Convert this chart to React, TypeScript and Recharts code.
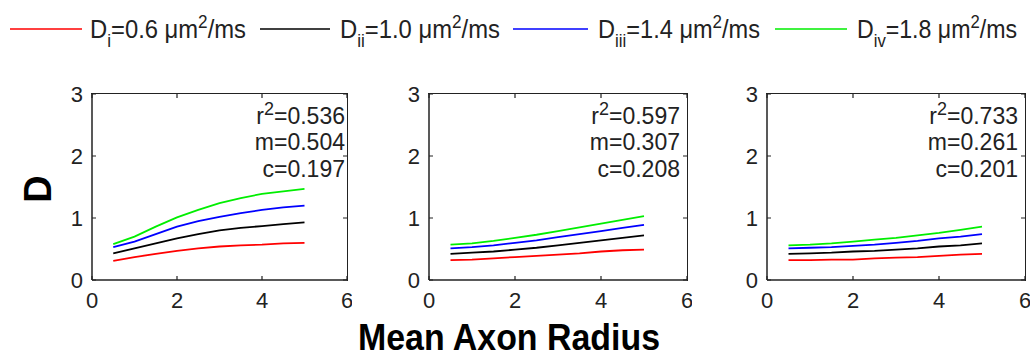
import React from 'react';
import { LineChart, Line, XAxis, YAxis } from 'recharts';

const FONT = '"Liberation Sans", Arial, sans-serif';
const INK = '#222';

// Mean axon radius sample points (shared by all panels)
const radius = [0.5, 1, 1.5, 2, 2.5, 3, 3.5, 4, 4.5, 5];

// Panel 1
const p1Red = [0.31, 0.37, 0.42, 0.47, 0.51, 0.54, 0.56, 0.57, 0.59, 0.6];
const p1Black = [0.43, 0.51, 0.59, 0.67, 0.74, 0.8, 0.84, 0.87, 0.9, 0.93];
const p1Blue = [0.53, 0.62, 0.74, 0.86, 0.95, 1.02, 1.08, 1.13, 1.17, 1.2];
const p1Green = [0.58, 0.7, 0.86, 1.01, 1.13, 1.24, 1.32, 1.39, 1.43, 1.47];

// Panel 2
const p2Red = [0.32, 0.33, 0.35, 0.37, 0.39, 0.41, 0.43, 0.46, 0.48, 0.49];
const p2Black = [0.42, 0.44, 0.46, 0.49, 0.52, 0.56, 0.6, 0.64, 0.68, 0.72];
const p2Blue = [0.51, 0.53, 0.56, 0.6, 0.64, 0.69, 0.74, 0.79, 0.84, 0.89];
const p2Green = [0.57, 0.59, 0.63, 0.68, 0.73, 0.79, 0.85, 0.91, 0.97, 1.03];

// Panel 3
const p3Red = [0.32, 0.32, 0.33, 0.33, 0.35, 0.36, 0.37, 0.39, 0.41, 0.42];
const p3Black = [0.42, 0.43, 0.44, 0.46, 0.47, 0.49, 0.51, 0.54, 0.56, 0.59];
const p3Blue = [0.51, 0.52, 0.53, 0.55, 0.57, 0.6, 0.63, 0.67, 0.7, 0.74];
const p3Green = [0.56, 0.57, 0.59, 0.62, 0.65, 0.68, 0.72, 0.76, 0.81, 0.86];

// fit statistics shown in each panel
const r2Values = ['0.536', '0.597', '0.733'];
const slopes = ['0.504', '0.307', '0.261'];
const intercepts = ['0.197', '0.208', '0.201'];

const xTicks = [0, 2, 4, 6];
const yTicks = [0, 1, 2, 3];
const X_MAX = 6;
const Y_MAX = 3;

// legend entries: subscript + diffusivity value
const legendSubs = ['i', 'ii', 'iii', 'iv'];
const legendValues = ['0.6', '1.0', '1.4', '1.8'];
const seriesKeys = ['red', 'black', 'blue', 'green'];
const seriesColors = ['#ff0000', '#000000', '#0000ff', '#00ee00'];

const buildRows = (red: number[], black: number[], blue: number[], green: number[]) =>
  radius.map((x, i) => ({ x, red: red[i], black: black[i], blue: blue[i], green: green[i] }));

const panels = [
  { rows: buildRows(p1Red, p1Black, p1Blue, p1Green), plotLeft: 92, plotW: 255, statX: 345 },
  { rows: buildRows(p2Red, p2Black, p2Blue, p2Green), plotLeft: 429, plotW: 258, statX: 680 },
  { rows: buildRows(p3Red, p3Black, p3Blue, p3Green), plotLeft: 767, plotW: 258, statX: 1018 },
];

const PLOT_TOP = 94;
const PLOT_H = 186;
const Y_AXIS_W = 50;
const X_AXIS_H = 40;
const MARGIN_TOP = 24;
const MARGIN_RIGHT = 5;
const TICK_LEN = 4;
const BOX_W = 1.5;

// MATLAB style: ticks point inward on all four sides, labels outside
const BottomTick = (props: any) => {
  const { x, y, payload } = props;
  return (
    <g>
      <path d={`M${x},${y}v${-TICK_LEN}M${x},${y - PLOT_H}v${TICK_LEN}`} stroke={INK} strokeWidth={1.2} fill="none" />
      <text x={x} y={y + 28} textAnchor="middle" fontSize={22} fill={INK} fontFamily={FONT}>
        {payload.value}
      </text>
    </g>
  );
};

const makeLeftTick = (plotW: number) => (props: any) => {
  const { x, y, payload } = props;
  return (
    <g>
      <path d={`M${x},${y}h${TICK_LEN}M${x + plotW},${y}h${-TICK_LEN}`} stroke={INK} strokeWidth={1.2} fill="none" />
      <text x={x - 9} y={y + 8} textAnchor="end" fontSize={22} fill={INK} fontFamily={FONT}>
        {payload.value}
      </text>
    </g>
  );
};

const Panel = ({ rows, plotLeft, plotW }: any) => (
  <>
    <div style={{ position: 'absolute', left: plotLeft - Y_AXIS_W, top: PLOT_TOP - MARGIN_TOP }}>
      <LineChart
        width={Y_AXIS_W + plotW + MARGIN_RIGHT}
        height={MARGIN_TOP + PLOT_H + X_AXIS_H}
        data={rows}
        margin={{ top: MARGIN_TOP, right: MARGIN_RIGHT, left: 0, bottom: 0 }}
      >
        <XAxis
          dataKey="x"
          type="number"
          domain={[0, X_MAX]}
          ticks={xTicks}
          height={X_AXIS_H}
          tickSize={0}
          tickMargin={0}
          tickLine={false}
          tick={BottomTick}
          axisLine={{ stroke: INK, strokeWidth: BOX_W }}
        />
        <YAxis
          type="number"
          domain={[0, Y_MAX]}
          ticks={yTicks}
          width={Y_AXIS_W}
          tickSize={0}
          tickMargin={0}
          tickLine={false}
          tick={makeLeftTick(plotW)}
          axisLine={{ stroke: INK, strokeWidth: BOX_W }}
        />
        {seriesKeys.map((k, i) => (
          <Line
            key={k}
            type="linear"
            dataKey={k}
            stroke={seriesColors[i]}
            strokeWidth={1.8}
            dot={false}
            isAnimationActive={false}
          />
        ))}
      </LineChart>
    </div>
    {/* axes box frame (top and right edges) */}
    <div
      style={{
        position: 'absolute',
        left: plotLeft - BOX_W / 2,
        top: PLOT_TOP - BOX_W / 2,
        width: plotW + BOX_W,
        height: PLOT_H + BOX_W,
        boxSizing: 'border-box',
        borderTop: `${BOX_W}px solid ${INK}`,
        borderRight: `${BOX_W}px solid ${INK}`,
        pointerEvents: 'none',
      }}
    />
  </>
);

// legend layout (line start/end, text start, text width)
const legendLayout = [
  { x1: 10, x2: 82, tx: 90, tw: 156 },
  { x1: 260, x2: 330, tx: 340, tw: 160 },
  { x1: 513, x2: 588, tx: 598, tw: 162 },
  { x1: 775, x2: 847, tx: 857, tw: 160 },
];

export default function App() {
  return (
    <div
      style={{
        position: 'absolute',
        left: 0,
        top: 0,
        width: 1034,
        height: 360,
        overflow: 'hidden',
        background: '#fff',
      }}
    >
      {panels.map((p, i) => (
        <Panel key={i} {...p} />
      ))}
      <svg
        width={1034}
        height={360}
        style={{ position: 'absolute', left: 0, top: 0, pointerEvents: 'none' }}
        fontFamily={FONT}
      >
        {legendLayout.map((l, i) => (
          <g key={i}>
            <line x1={l.x1} y1={29} x2={l.x2} y2={29} stroke={seriesColors[i]} strokeWidth={1.5} />
            <text
              x={l.tx}
              y={38}
              fontSize={25}
              fill={INK}
              textLength={l.tw}
              lengthAdjust="spacingAndGlyphs"
            >
              D
              <tspan fontSize={18} dy={9}>{legendSubs[i]}</tspan>
              <tspan fontSize={25} dy={-9}>{`=${legendValues[i]} \u03bcm`}</tspan>
              <tspan fontSize={18} dy={-10}>2</tspan>
              <tspan fontSize={25} dy={10}>/ms</tspan>
            </text>
          </g>
        ))}

        {panels.map((p, i) => (
          <g key={i} fontSize={23} fill={INK}>
            <text x={p.statX} y={124} textAnchor="end">
              r<tspan fontSize={18} dy={-9}>2</tspan>
              <tspan fontSize={23} dy={9}>{`=${r2Values[i]}`}</tspan>
            </text>
            <text x={p.statX} y={150} textAnchor="end">{`m=${slopes[i]}`}</text>
            <text x={p.statX} y={177} textAnchor="end">{`c=${intercepts[i]}`}</text>
          </g>
        ))}

        <text
          x={51}
          y={189}
          transform="rotate(-90 51 189)"
          textAnchor="middle"
          fontSize={38}
          fontWeight="bold"
          fill="#000"
        >
          D
        </text>
        <text
          x={358}
          y={350}
          fontSize={37}
          fontWeight="bold"
          fill="#000"
          textLength={302}
          lengthAdjust="spacingAndGlyphs"
        >
          Mean Axon Radius
        </text>
      </svg>
    </div>
  );
}
